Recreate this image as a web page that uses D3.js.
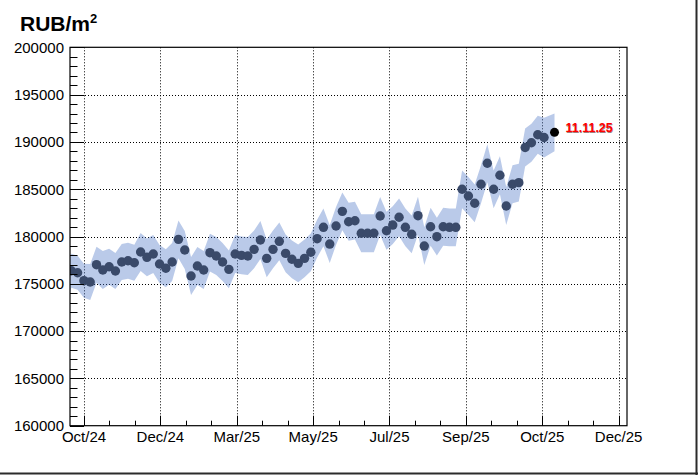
<!DOCTYPE html>
<html>
<head>
<meta charset="utf-8">
<script src="https://cdn.jsdelivr.net/npm/d3@7"></script>
<style>
  html, body { margin: 0; padding: 0; background: #fff; }
  svg { display: block; }
  text { font-family: "Liberation Sans", Arial, Helvetica, sans-serif; }
</style>
</head>
<body>
<script>
// ---------- data ----------
const unitLabel = "RUB/m";
const unitSup = "2";
const lastLabel = "11.11.25";

// observation index (equally spaced) and price values
const obsIndex = d3.range(-1, 76);
const prices = [
  174600,
  176380, 176170, 175330, 175190, 177020, 176460, 176800, 176350, 177300, 177440,
  177230, 178360, 177800, 178150, 177090, 176640, 177300, 179700, 178570, 175820,
  176880, 176460, 178290, 177940, 177300, 176530, 178150, 178010, 177940, 178640,
  179630, 177690, 178640, 179490, 178220, 177590, 177160, 177690, 178330, 179770,
  180970, 179200, 181110, 182660, 181560, 181670, 180340, 180340, 180340, 182170,
  180610, 181210, 182030, 180970, 180230, 182200, 178990, 181030, 179980, 181030,
  180970, 180970, 184990, 184280, 183510, 185520, 187740, 184990, 186470, 183220,
  185520, 185690, 189410, 189910, 190760, 190460
];
// half-width of the shaded band
const bandErr = [
  2400,
  1800, 1800, 1800, 1900, 1900, 2000, 1900, 1900, 1900, 1900,
  1900, 2000, 2000, 2000, 2000, 2000, 2000, 2000, 2000, 2000,
  2000, 2000, 2000, 2000, 2000, 2000, 2000, 2000, 2000, 2000,
  2000, 2000, 2000, 2000, 2000, 2000, 2000, 2000, 2000, 2000,
  2000, 2000, 2000, 2000, 2000, 2000, 2000, 2000, 2000, 2000,
  2000, 2000, 2000, 2000, 2000, 2000, 2000, 2000, 2000, 2000,
  2000, 2000, 2000, 2000, 2000, 2000, 2000, 2000, 2000, 2000,
  2000, 2000, 2000, 2000, 2000, 2100
];
// last (current) point
const lastIndex = [76.66];
const lastPrice = [191010];
const lastErr = [2000];

// axis ticks
const xTickValues = [2.02, 14.13, 26.25, 38.37, 50.48, 62.6, 74.71, 86.83];
const xTickLabels = ["Oct/24", "Dec/24", "Mar/25", "May/25", "Jul/25", "Sep/25", "Oct/25", "Dec/25"];
const yTickValues = [160000, 165000, 170000, 175000, 180000, 185000, 190000, 195000, 200000];

// ---------- layout ----------
const W = 698, H = 475;
const frame = { left: 70, right: 627, top: 47.3, bottom: 425.7 };

const svg = d3.select("body").append("svg").attr("width", W).attr("height", H);

const x = d3.scaleLinear().domain([-0.206, 88.16]).range([frame.left, frame.right]);
const y = d3.scaleLinear().domain([160000, 200000]).range([frame.bottom, frame.top]);

svg.append("defs").append("clipPath").attr("id", "clip")
  .append("rect")
  .attr("x", frame.left).attr("y", frame.top)
  .attr("width", frame.right - frame.left).attr("height", frame.bottom - frame.top);

// canvas border (right / bottom)
svg.append("line").attr("x1", 0).attr("x2", W).attr("y1", H - 1.5).attr("y2", H - 1.5)
  .attr("stroke", "#2b2b2b").attr("stroke-width", 2);
svg.append("line").attr("x1", W - 1.5).attr("x2", W - 1.5).attr("y1", 0).attr("y2", H)
  .attr("stroke", "#2b2b2b").attr("stroke-width", 2);

// grid
const grid = svg.append("g");
grid.selectAll(".gx").data(xTickValues).join("line")
  .attr("x1", d => Math.round(x(d)) + 0.5).attr("x2", d => Math.round(x(d)) + 0.5)
  .attr("y1", frame.top).attr("y2", frame.bottom)
  .attr("stroke", "#000").attr("stroke-width", 1).attr("stroke-dasharray", "1,2");
grid.selectAll(".gy").data(yTickValues.slice(1, -1)).join("line")
  .attr("x1", frame.left).attr("x2", frame.right)
  .attr("y1", d => Math.round(y(d)) + 0.5).attr("y2", d => Math.round(y(d)) + 0.5)
  .attr("stroke", "#000").attr("stroke-width", 1).attr("stroke-dasharray", "1,2");

// band
const all = obsIndex.map((d, i) => ({ i: d, v: prices[i], e: bandErr[i] }))
  .concat(lastIndex.map((d, i) => ({ i: d, v: lastPrice[i], e: lastErr[i] })));
const area = d3.area()
  .x(d => x(d.i))
  .y0(d => y(d.v - d.e))
  .y1(d => y(d.v + d.e));
const plot = svg.append("g").attr("clip-path", "url(#clip)");
plot.append("path").datum(all).attr("d", area)
  .attr("fill", "#4a74c4").attr("fill-opacity", 0.38);

// points
plot.selectAll(".pt").data(obsIndex.map((d, i) => ({ i: d, v: prices[i] })).filter(d => x(d.i) >= frame.left))
  .join("circle")
  .attr("cx", d => x(d.i)).attr("cy", d => y(d.v)).attr("r", 4.7)
  .attr("fill", "#3a4a6a");
plot.selectAll(".last").data(lastIndex.map((d, i) => ({ i: d, v: lastPrice[i] })))
  .join("circle")
  .attr("cx", d => x(d.i)).attr("cy", d => y(d.v)).attr("r", 4.5)
  .attr("fill", "#000");

// label of last point
const lbl = svg.append("g");
lastIndex.forEach((d, i) => {
  lbl.append("text").attr("x", x(d) + 11.5).attr("y", y(lastPrice[i]) + 0.5)
    .attr("font-size", 12.5).attr("font-weight", "bold").attr("fill", "#400")
    .attr("opacity", 0.5).text(lastLabel);
  lbl.append("text").attr("x", x(d) + 11).attr("y", y(lastPrice[i]))
    .attr("font-size", 12.5).attr("font-weight", "bold").attr("fill", "#ff0000").text(lastLabel);
});

// frame
svg.append("rect")
  .attr("x", frame.left).attr("y", frame.top)
  .attr("width", frame.right - frame.left).attr("height", frame.bottom - frame.top)
  .attr("fill", "none").attr("stroke", "#000").attr("stroke-width", 1.2);

// y axis ticks (inside)
const yMinor = d3.range(160000, 200001, 1000);
svg.append("g").selectAll("line").data(yMinor).join("line")
  .attr("x1", frame.left).attr("x2", d => frame.left + (d % 5000 === 0 ? 14 : 7.5))
  .attr("y1", d => Math.round(y(d)) + 0.5).attr("y2", d => Math.round(y(d)) + 0.5)
  .attr("stroke", "#000").attr("stroke-width", 1);
svg.append("g").selectAll("text").data(yTickValues).join("text")
  .attr("x", frame.left - 6).attr("y", d => y(d) + 5.3)
  .attr("text-anchor", "end").attr("font-size", 15).attr("fill", "#000")
  .text(d => d3.format("d")(d));

// x axis ticks (inside)
const xStep = xTickValues[1] - xTickValues[0];
const xMinor = [];
xTickValues.forEach((t, k) => {
  if (k < xTickValues.length - 1) { xMinor.push(t + xStep / 3, t + 2 * xStep / 3); }
});
svg.append("g").selectAll("line").data(xTickValues).join("line")
  .attr("x1", d => Math.round(x(d)) + 0.5).attr("x2", d => Math.round(x(d)) + 0.5)
  .attr("y1", frame.bottom).attr("y2", frame.bottom - 10)
  .attr("stroke", "#000").attr("stroke-width", 1);
svg.append("g").selectAll("line").data(xMinor).join("line")
  .attr("x1", d => Math.round(x(d)) + 0.5).attr("x2", d => Math.round(x(d)) + 0.5)
  .attr("y1", frame.bottom).attr("y2", frame.bottom - 5)
  .attr("stroke", "#000").attr("stroke-width", 1);
svg.append("g").selectAll("text").data(xTickValues).join("text")
  .attr("x", d => x(d)).attr("y", frame.bottom + 16)
  .attr("text-anchor", "middle").attr("font-size", 15).attr("fill", "#000")
  .text((d, i) => xTickLabels[i]);

// title
const t = svg.append("text").attr("x", 20).attr("y", 31)
  .attr("font-size", 21).attr("font-weight", "bold").attr("fill", "#000");
t.append("tspan").text(unitLabel);
t.append("tspan").attr("font-size", 13).attr("dy", -8.5).text(unitSup);
</script>
</body>
</html>
